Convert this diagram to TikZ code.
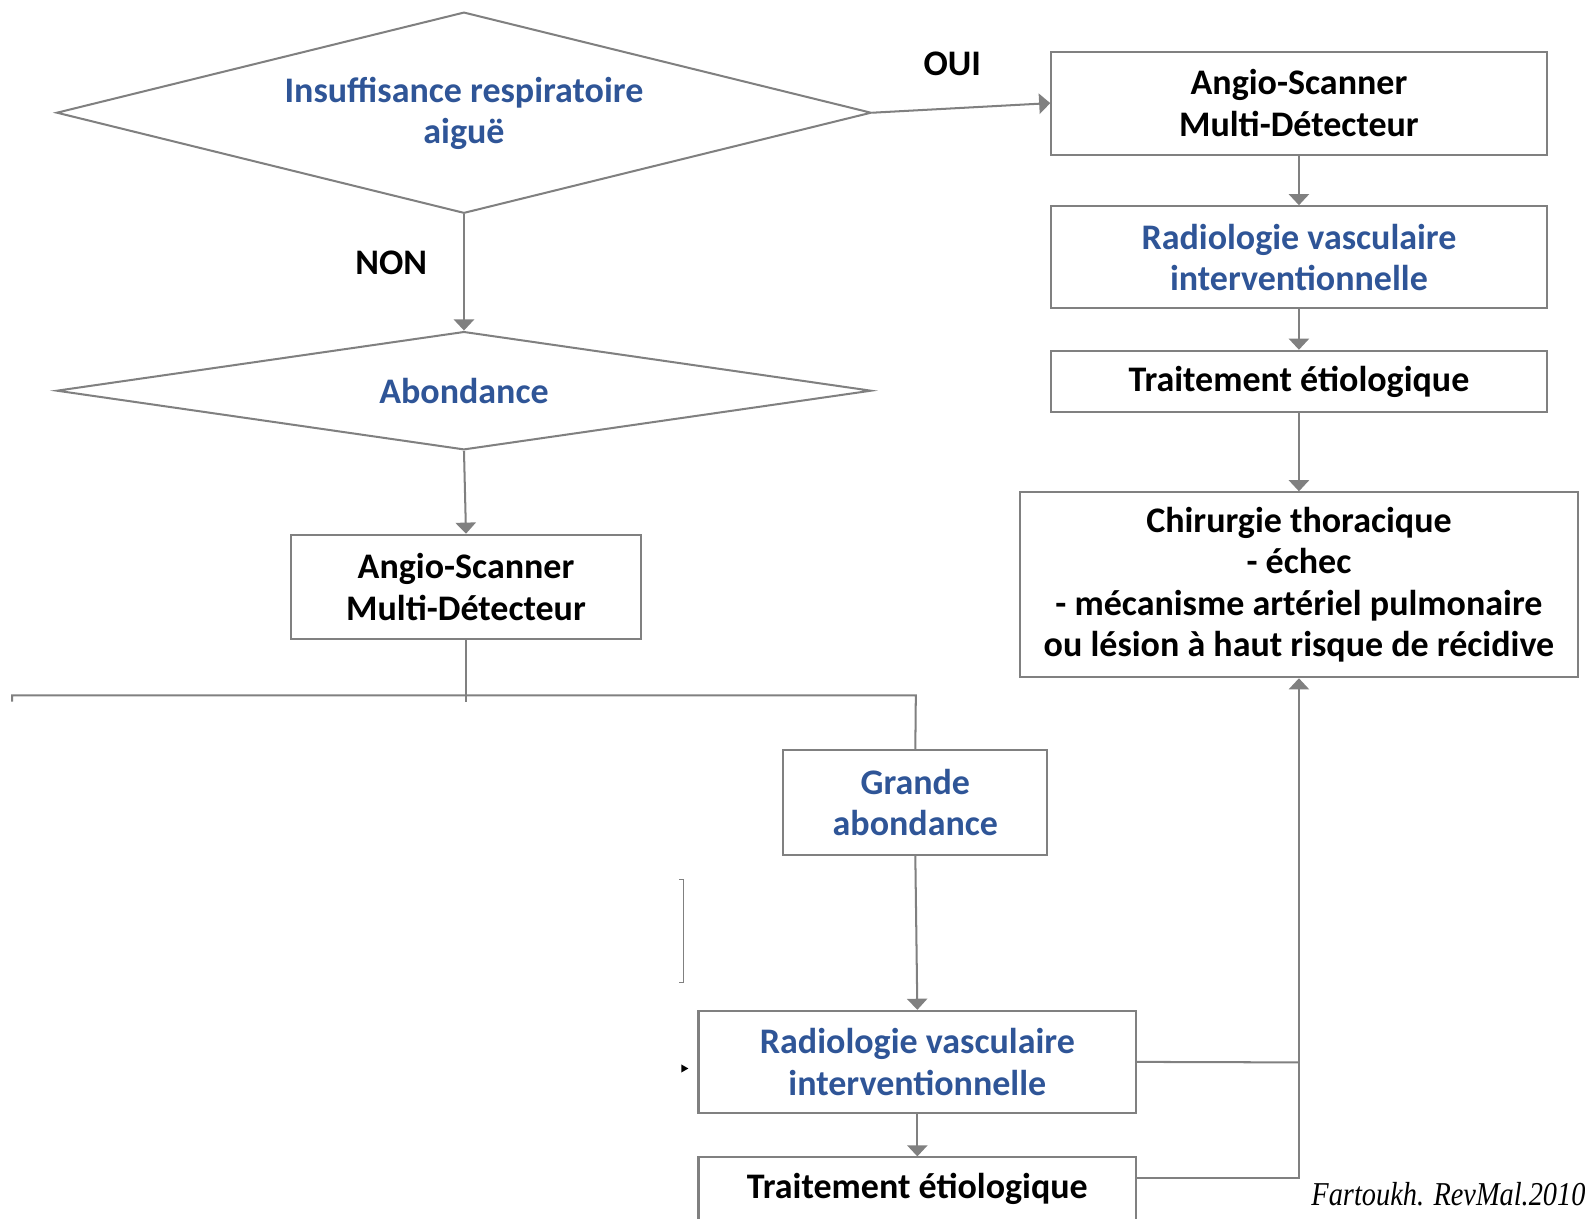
\documentclass[tikz,border=0pt]{standalone}
\usepackage{fontspec}
\setmainfont{Carlito}
\newfontfamily\citefont{Liberation Serif}
\usetikzlibrary{arrows.meta,shapes.geometric}
\definecolor{linegray}{HTML}{808080}
\definecolor{txtblue}{HTML}{2F5597}
\begin{document}
\begin{tikzpicture}[x=0.5pt,y=-0.5pt,
  lbl/.style={font=\bfseries\fontsize{17.8}{20.5}\selectfont, align=center, inner sep=0pt},
  boxnode/.style={draw=linegray, line width=1pt, rectangle, inner sep=0pt, lbl},
  dnode/.style={draw=linegray, line width=1pt, diamond, inner sep=0pt},
  conn/.style={draw=linegray, line width=1pt},
  arr/.style={conn, -{Triangle[length=5.5pt,width=10pt]}},
  bluet/.style={text=txtblue},
]
\useasboundingbox (0,0) rectangle (1568,1205);

% left column
\node[dnode, minimum width=403pt, minimum height=99.5pt] (d1) at (459,111.5) {};
\node[lbl, bluet] (t1) at (459,112) {Insuffisance respiratoire\\aiguë};
\node[dnode, minimum width=403pt, minimum height=58.5pt] (d2) at (459,386.5) {};
\node[lbl, bluet] (t2) at (459,387) {Abondance};

\node[boxnode, minimum width=173pt, minimum height=51.5pt] (b1) at (461,580.5) {Angio-Scanner\\Multi-Détecteur};
\node[boxnode, bluet, minimum width=130.5pt, minimum height=52pt] (b2) at (905.5,794) {Grande\\abondance};
\node[boxnode, bluet, minimum width=216.5pt, minimum height=50.5pt] (b3) at (907.5,1050.5) {Radiologie vasculaire\\interventionnelle};
\node[boxnode, minimum width=216.5pt, minimum height=31pt] (b4) at (907.5,1176) {Traitement étiologique};

% right column
\node[boxnode, minimum width=245pt, minimum height=51pt] (a1) at (1285,102) {Angio-Scanner\\Multi-Détecteur};
\node[boxnode, bluet, minimum width=245pt, minimum height=50.5pt] (a2) at (1285,254.5) {Radiologie vasculaire\\interventionnelle};
\node[boxnode, minimum width=245pt, minimum height=30.5pt] (a3) at (1285,377.5) {Traitement étiologique};
\node[boxnode, minimum width=276pt, minimum height=91.5pt] (a4) at (1285,578.5) {Chirurgie thoracique\\- échec\\- mécanisme artériel pulmonaire\\ou lésion à haut risque de récidive};

% labels
\node[lbl] (oui) at (942,63) {OUI};
\node[lbl] (non) at (387,260) {NON};

% connectors
\draw[arr] (d1.east) -- (a1.west);
\draw[arr] (a1.south) -- (a2.north);
\draw[arr] (a2.south) -- (a3.north);
\draw[arr] (a3.south) -- (a4.north);
\draw[arr] (d1.south) -- (d2.north);
\draw[arr] (d2.south) -- (b1.north);

\coordinate (hl) at (12,688);
\coordinate (hr) at (906,688);
\coordinate (hlt) at (12,694);
\coordinate (hmt) at (461,694);
\draw[conn] (b1.south) -- (hmt);
\draw[conn] (hlt) -- (hl) -- (hr) -- (b2.north);
\draw[arr] (b2.south) -- (b3.north);
\draw[arr] (b3.south) -- (b4.north);

\coordinate (j1) at (1285,1051);
\coordinate (j2) at (1285,1165);
\draw[conn] (b3.east) -- (j1);
\draw[conn] (b4.east |- j2) -- (j2) -- (j1);
\draw[arr] (j1) -- (a4.south);

% stray marks
\coordinate (s1) at (672,870);
\coordinate (s2) at (676,870);
\coordinate (s3) at (676,972);
\coordinate (s4) at (672,972);
\draw[draw=linegray, line width=0.6pt] (s1) -- (s2) -- (s3) -- (s4);
\fill[black] (674,1053) -- (681,1057) -- (674,1061) -- cycle;

% citation
\node[anchor=base west, inner sep=0pt, font=\citefont\itshape\fontsize{16.5}{18}\selectfont] (cite) at (1297,1193) {\scalebox{0.85}[1]{Fartoukh. RevMal.2010}};
\end{tikzpicture}
\end{document}
